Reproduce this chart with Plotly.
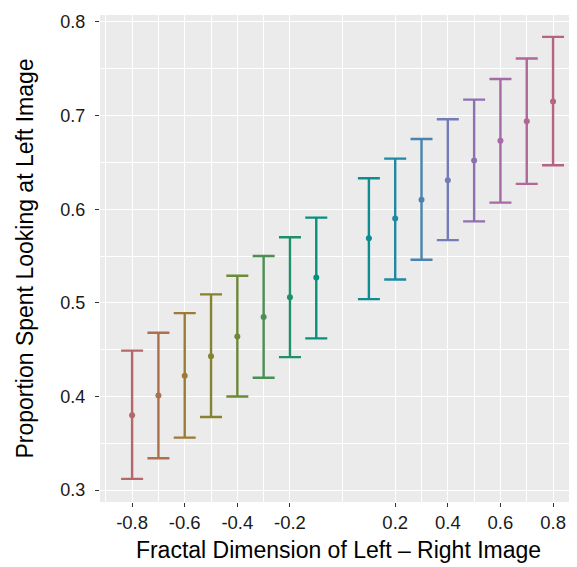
import plotly.graph_objects as go

# ---- data ----
x_vals = [-0.8, -0.7, -0.6, -0.5, -0.4, -0.3, -0.2, -0.1,
          0.1, 0.2, 0.3, 0.4, 0.5, 0.6, 0.7, 0.8]
mean_vals = [0.380, 0.401, 0.422, 0.443, 0.464, 0.485, 0.506, 0.527,
             0.569, 0.590, 0.610, 0.631, 0.652, 0.673, 0.694, 0.715]
lower_vals = [0.312, 0.334, 0.356, 0.378, 0.400, 0.420, 0.442, 0.462,
              0.504, 0.525, 0.546, 0.567, 0.587, 0.607, 0.627, 0.647]
upper_vals = [0.449, 0.468, 0.489, 0.509, 0.529, 0.550, 0.570, 0.591,
              0.633, 0.654, 0.675, 0.696, 0.717, 0.739, 0.761, 0.784]

x_ticks = [-0.8, -0.6, -0.4, -0.2, 0.2, 0.4, 0.6, 0.8]
x_tick_text = ["-0.8", "-0.6", "-0.4", "-0.2", "0.2", "0.4", "0.6", "0.8"]
x_minor = [-0.9, -0.7, -0.5, -0.3, 0.0, 0.3, 0.5, 0.7]
y_ticks = [0.3, 0.4, 0.5, 0.6, 0.7, 0.8]
y_tick_text = ["0.3", "0.4", "0.5", "0.6", "0.7", "0.8"]

# ---- style ----
colors = ["#B5676B", "#AD6F4E", "#9D7B37", "#868330", "#6C8A38", "#4B8F55",
          "#1F906B", "#08907E", "#0D8C91", "#1F88A2", "#4A83B0", "#737CB4",
          "#8D72B0", "#A46BA6", "#B06897", "#B56483"]
FONT = "Liberation Sans, Arial, Helvetica, sans-serif"

fig = go.Figure()
for xi, m, lo, hi, c in zip(x_vals, mean_vals, lower_vals, upper_vals, colors):
    fig.add_trace(go.Scatter(
        x=[xi], y=[m], mode="markers",
        marker=dict(color=c, size=6),
        error_y=dict(type="data", symmetric=False,
                     array=[hi - m], arrayminus=[m - lo],
                     color=c, thickness=2.4, width=11),
        showlegend=False, hoverinfo="skip"))

fig.update_layout(
    width=577, height=567,
    margin=dict(l=92, r=8, t=4, b=73),
    paper_bgcolor="white", plot_bgcolor="#EBEBEB",
    font=dict(family=FONT, color="#000000"),
    xaxis=dict(
        range=[-0.922, 0.891], tickmode="array", tickvals=x_ticks,
        ticktext=x_tick_text, showgrid=True, gridcolor="white", gridwidth=1.2,
        zeroline=False, ticks="outside", ticklen=4, tickcolor="#333333",
        tickwidth=1, tickfont=dict(size=18.5, color="#1A1A1A", family=FONT),
        minor=dict(tickmode="array", tickvals=x_minor, showgrid=True,
                   gridcolor="white", gridwidth=0.6, ticks=""),
        title=dict(text="Fractal Dimension of Left \u2013 Right Image",
                   font=dict(size=23, color="#000000", family=FONT), standoff=9),
        showline=False),
    yaxis=dict(
        range=[0.2873, 0.8074], tickmode="array", tickvals=y_ticks,
        ticktext=y_tick_text, showgrid=True, gridcolor="white", gridwidth=1.2,
        zeroline=False, ticks="outside", ticklen=4, tickcolor="#333333",
        tickwidth=1, tickfont=dict(size=18, color="#1A1A1A", family=FONT),
        ticklabelstandoff=6,
        minor=dict(dtick=0.05, tick0=0.25, showgrid=True,
                   gridcolor="white", gridwidth=0.6, ticks=""),
        title=dict(text="Proportion Spent Looking at Left Image",
                   font=dict(size=23, color="#000000", family=FONT), standoff=20),
        showline=False),
)

fig.write_html("out.html")
